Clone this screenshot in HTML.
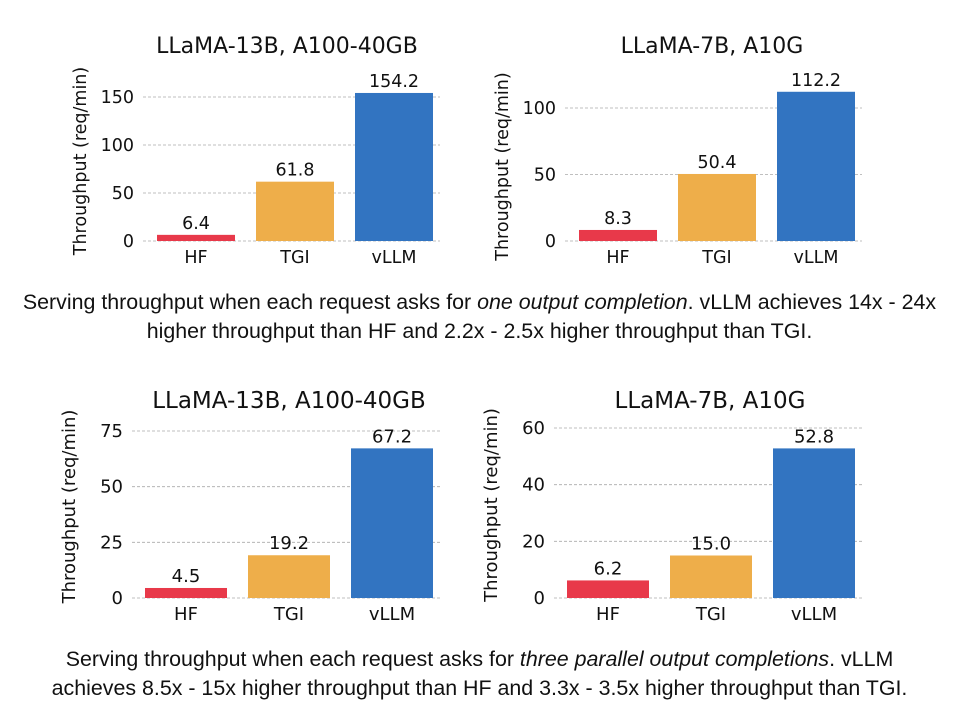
<!DOCTYPE html>
<html><head><meta charset="utf-8"><style>
body{margin:0;width:959px;height:706px;background:#fff;overflow:hidden;position:relative;font-family:"Liberation Sans",sans-serif}
svg{position:absolute;left:0;top:0}
.cap{position:absolute;left:0;width:959px;text-align:center;font-size:21.4px;line-height:29px;color:#111;white-space:nowrap}
</style></head><body>
<svg id="chart" width="959" height="706" font-family="DejaVu Sans, sans-serif"></svg>
<div class="cap" style="top:288px">Serving throughput when each request asks for <i>one output completion</i>. vLLM achieves 14x - 24x<br>higher throughput than HF and 2.2x - 2.5x higher throughput than TGI.</div>
<div class="cap" style="top:645px">Serving throughput when each request asks for <i>three parallel output completions</i>. vLLM<br>achieves 8.5x - 15x higher throughput than HF and 3.3x - 3.5x higher throughput than TGI.</div>
<script>
const categories = ["HF","TGI","vLLM"];
const titles = ["LLaMA-13B, A100-40GB","LLaMA-7B, A10G","LLaMA-13B, A100-40GB","LLaMA-7B, A10G"];
const values1 = [6.4, 61.8, 154.2];
const values2 = [8.3, 50.4, 112.2];
const values3 = [4.5, 19.2, 67.2];
const values4 = [6.2, 15.0, 52.8];
const ticks1 = [0,50,100,150];
const ticks2 = [0,50,100];
const ticks3 = [0,25,50,75];
const ticks4 = [0,20,40,60];
const labels1 = ["6.4","61.8","154.2"];
const labels2 = ["8.3","50.4","112.2"];
const labels3 = ["4.5","19.2","67.2"];
const labels4 = ["6.2","15.0","52.8"];
const colors = ["#e8394a","#eeae4a","#3274c1"];
const NS="http://www.w3.org/2000/svg";
const svg=document.getElementById('chart');
function mk(tag,attrs,parent){const e=document.createElementNS(NS,tag);for(const k in attrs)e.setAttribute(k,attrs[k]);(parent||svg).appendChild(e);return e;}
const panels=[
 {vals:values1,ticks:ticks1,labels:labels1,title:titles[0],x0:143,x1:440,base:241,yTop:97,vTop:150,bar0:157,bw:78,step:99,ty:45,tc:287,fs:17.5,tfs:22},
 {vals:values2,ticks:ticks2,labels:labels2,title:titles[1],x0:565,x1:862,base:241,yTop:108,vTop:100,bar0:579,bw:78,step:99,ty:45,tc:712,fs:17.5,tfs:22},
 {vals:values3,ticks:ticks3,labels:labels3,title:titles[2],x0:132,x1:440,base:598,yTop:431,vTop:75,bar0:145,bw:82,step:103,ty:400,tc:289,fs:18,tfs:23},
 {vals:values4,ticks:ticks4,labels:labels4,title:titles[3],x0:554,x1:862,base:598,yTop:428,vTop:60,bar0:567,bw:82,step:103,ty:400,tc:710,fs:18,tfs:23}
];
panels.forEach((p,pi)=>{
 const g=mk('g',{});
 
 
 const y=v=>p.base-(p.base-p.yTop)*v/p.vTop;
 p.ticks.forEach(t=>{
  const l=mk('line',{x1:p.x0,x2:p.x1,y1:y(t),y2:y(t),stroke:'#aaa','stroke-width':0.8,'stroke-dasharray':'3,2'},g);
  
  
  const tx=mk('text',{x:p.x0-9,y:y(t)+6,'text-anchor':'end','font-size':p.fs,fill:'#111'},g);
  tx.textContent=t;
  
  
 });
 categories.forEach((c,i)=>{
  const bx=p.bar0+i*p.step;
  const r=mk('rect',{x:bx,y:y(p.vals[i]),width:p.bw,height:p.base-y(p.vals[i]),fill:colors[i]},g);
  
  
  const vl=mk('text',{x:bx+p.bw/2,y:y(p.vals[i])-6,'text-anchor':'middle','font-size':p.fs,fill:'#111'},g);
  vl.textContent=p.labels[i];
  
  
  const xl=mk('text',{x:bx+p.bw/2,y:p.base+22,'text-anchor':'middle','font-size':p.fs,fill:'#111'},g);
  xl.textContent=c;
  
  
 });
 const t=mk('text',{x:p.tc,y:p.ty+8,'text-anchor':'middle','font-size':p.tfs,fill:'#111'},g);
 t.textContent=p.title;
 
 
 const cy=(p.base+p.yTop)/2-8;
 const ax=p.x0-57;
 const at=mk('text',{x:ax,y:cy,'text-anchor':'middle','font-size':p.fs,fill:'#111',transform:`rotate(-90 ${ax} ${cy})`},g);
 at.textContent='Throughput (req/min)';
 
 
});
</script>
</body></html>
